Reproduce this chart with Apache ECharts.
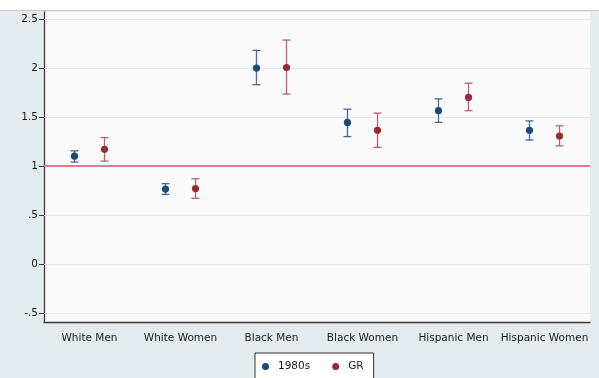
<!DOCTYPE html>
<html>
<head>
<meta charset="utf-8">
<script src="https://cdn.jsdelivr.net/npm/echarts@6/dist/echarts.min.js"></script>
<style>
html,body{margin:0;padding:0;}
#wrap{position:relative;width:599px;height:378px;background:#e3ebee;overflow:hidden;}
#top{position:absolute;left:0;top:0;width:599px;height:10px;background:#ffffff;border-bottom:1px solid #c9c9c9;}
#chart{position:absolute;left:0;top:0;width:599px;height:378px;}
</style>
</head>
<body>
<div id="wrap"><div id="top"></div><div id="chart"></div></div>
<script>
const categories = ['White Men','White Women','Black Men','Black Women','Hispanic Men','Hispanic Women'];
// point estimate, upper CI, lower CI
const est1980s = [1.10, 0.765, 2.00, 1.445, 1.565, 1.365];
const hi1980s  = [1.155, 0.82, 2.18, 1.58, 1.685, 1.46];
const lo1980s  = [1.04, 0.71, 1.83, 1.30, 1.445, 1.265];
const estGR = [1.17, 0.77, 2.005, 1.365, 1.70, 1.305];
const hiGR  = [1.29, 0.87, 2.285, 1.54, 1.845, 1.41];
const loGR  = [1.05, 0.67, 1.735, 1.19, 1.565, 1.205];
const yTicks = [-0.5, 0, 0.5, 1, 1.5, 2, 2.5];
const refValue = 1;

function rows(est, hi, lo){ return est.map((v,i)=>[i, v, hi[i], lo[i]]); }

function makeRender(offsetFrac, barColor){
  return function(params, api){
    const xi = api.value(0);
    const c = api.coord([xi, api.value(1)]);
    const h = api.coord([xi, api.value(2)]);
    const l = api.coord([xi, api.value(3)]);
    const band = api.size([1,0])[0];
    const x = c[0] + offsetFrac*band;
    const cap = 4;
    const ls = {stroke: barColor, lineWidth: 1.3};
    return {type:'group', children:[
      {type:'line', shape:{x1:x,y1:h[1],x2:x,y2:l[1]}, style:ls},
      {type:'line', shape:{x1:x-cap,y1:h[1],x2:x+cap,y2:h[1]}, style:ls},
      {type:'line', shape:{x1:x-cap,y1:l[1],x2:x+cap,y2:l[1]}, style:ls},
      {type:'circle', shape:{cx:x, cy:c[1], r:3.6}, style:{fill: api.visual('color')}}
    ]};
  };
}

const font = 'DejaVu Sans, Verdana, sans-serif';
const chart = echarts.init(document.getElementById('chart'));
chart.setOption({
  animation:false,
  backgroundColor:'transparent',
  grid:{left:44, right:9, top:12, bottom:56, show:true, backgroundColor:'#fafafa', borderWidth:0},
  xAxis:{
    type:'category', data:categories, boundaryGap:true,
    axisLine:{onZero:false, lineStyle:{color:'#3a3a3a', width:1.3}},
    axisTick:{alignWithLabel:true, length:5, lineStyle:{color:'#3a3a3a'}},
    axisLabel:{color:'#1a1a1a', fontSize:10.5, fontFamily:font, margin:11, interval:0},
    splitLine:{show:false}
  },
  yAxis:{
    type:'value', min:-0.5918, max:2.5714,
    axisLine:{show:true, lineStyle:{color:'#3a3a3a', width:1.3}},
    axisTick:{show:true, length:5, customValues:yTicks, lineStyle:{color:'#3a3a3a'}},
    axisLabel:{color:'#1a1a1a', fontSize:10.5, fontFamily:font, margin:6, customValues:yTicks,
      formatter:function(v){ let s = String(Math.round(v*10)/10); return s.replace(/^(-?)0\./,'$1.'); }},
    splitLine:{show:false}
  },
  legend:{
    left:255, top:353, width:110,
    data:[{name:'1980s', icon:'circle'},{name:'GR', icon:'circle'}],
    itemWidth:7, itemHeight:7, itemGap:22,
    backgroundColor:'#ffffff', borderColor:'#333', borderWidth:1,
    padding:[8,10,8,7],
    textStyle:{color:'#1a1a1a', fontSize:10.5, fontFamily:font, padding:[0,0,0,4]}
  },
  series:[
    {type:'line', data:[], silent:true,
     markLine:{symbol:'none', silent:true, label:{show:false},
       data: yTicks.map(v=>({yAxis:v, lineStyle:{color:'#e3ebee', width:1, type:'solid'}})).concat([{yAxis:refValue, lineStyle:{color:'#d6586f', width:1.6, type:'solid'}}])}},
    {name:'1980s', type:'custom', color:'#1a4a78', renderItem:makeRender(-0.165,'rgba(40,85,130,0.85)'),
     encode:{x:0,y:[1,2,3]}, data:rows(est1980s,hi1980s,lo1980s), z:5},
    {name:'GR', type:'custom', color:'#962a35', renderItem:makeRender(0.165,'rgba(175,70,80,0.85)'),
     encode:{x:0,y:[1,2,3]}, data:rows(estGR,hiGR,loGR), z:5}
  ]
});
</script>
</body>
</html>
